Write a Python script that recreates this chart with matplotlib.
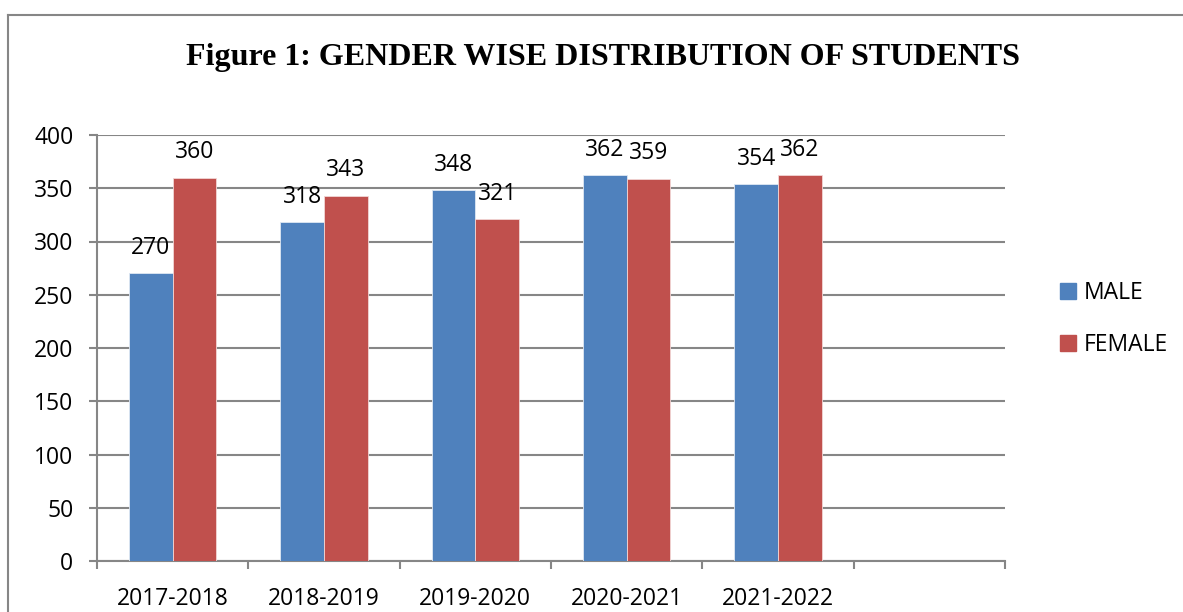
import numpy as np
import matplotlib.pyplot as plt
from matplotlib.patches import Patch
from matplotlib.lines import Line2D

years = ['2017-2018', '2018-2019', '2019-2020', '2020-2021', '2021-2022']
male = [270, 318, 348, 362, 354]
female = [360, 343, 321, 359, 362]

blue = '#4F81BD'
red = '#C0504D'
grey = '#868686'
lab_font = 'Open Sans'
fs = 16.5

fig = plt.figure(figsize=(11.83, 6.12), dpi=100)
ax = fig.add_axes([97 / 1183, 1 - 561 / 612, (1005 - 97) / 1183, (561 - 135) / 612])

# frame round the chart (left and top edges only are visible)
fig.add_artist(Line2D([8 / 1183, 8 / 1183], [0, 1 - 15 / 612], transform=fig.transFigure, color=grey, lw=1.5))
fig.add_artist(Line2D([8 / 1183, 1], [1 - 15 / 612, 1 - 15 / 612], transform=fig.transFigure, color=grey, lw=1.5))

x = np.arange(len(years)) + 0.5
w = 0.2875
bm = ax.bar(x - w / 2, male, w, color=blue, edgecolor='#dfe8f3', linewidth=0.6, zorder=3)
bf = ax.bar(x + w / 2, female, w, color=red, edgecolor='#f2d6d5', linewidth=0.6, zorder=3)

for bars, vals in ((bm, male), (bf, female)):
    for b, v in zip(bars, vals):
        ax.annotate(str(v), (b.get_x() + b.get_width() / 2, v), xytext=(0, 14),
                    textcoords='offset points', ha='center', va='baseline',
                    fontsize=fs, family=lab_font)

ax.set_xlim(0, 6)
ax.set_ylim(0, 400)
ax.set_yticks(range(0, 401, 50))
ax.set_xticks(range(0, 7))
ax.set_xticklabels([])
ax.set_xticks(x, minor=True)
ax.set_xticklabels(years, minor=True, fontsize=fs, family=lab_font)
ax.tick_params(axis='x', which='minor', length=0, pad=19)
ax.tick_params(axis='x', which='major', length=6, color=grey, width=1.5, direction='out')
ax.tick_params(axis='y', length=6, color=grey, width=1.5, labelsize=fs, pad=11)
for lab in ax.get_yticklabels():
    lab.set_family(lab_font)

ax.grid(axis='y', color=grey, lw=1.5, zorder=0)
ax.set_axisbelow(True)
for s in ('top', 'right'):
    ax.spines[s].set_visible(False)
for s in ('left', 'bottom'):
    ax.spines[s].set_color(grey)
    ax.spines[s].set_linewidth(1.5)

handles = [Patch(color=blue, label='MALE'), Patch(color=red, label='FEMALE')]
fig.legend(handles=handles, loc='center left', bbox_to_anchor=(1060 / 1183, 1 - 319 / 612),
           frameon=False, prop={'family': lab_font, 'size': fs},
           handlelength=0.68, handleheight=0.68, handletextpad=0.35, labelspacing=1.2,
           borderpad=0, borderaxespad=0)

fig.text(603 / 1183, 1 - 57 / 612, 'Figure 1: GENDER WISE DISTRIBUTION OF STUDENTS',
         ha='center', va='center', fontsize=23, fontweight='bold', family='Liberation Serif')

fig.savefig('out.png', dpi=100)
